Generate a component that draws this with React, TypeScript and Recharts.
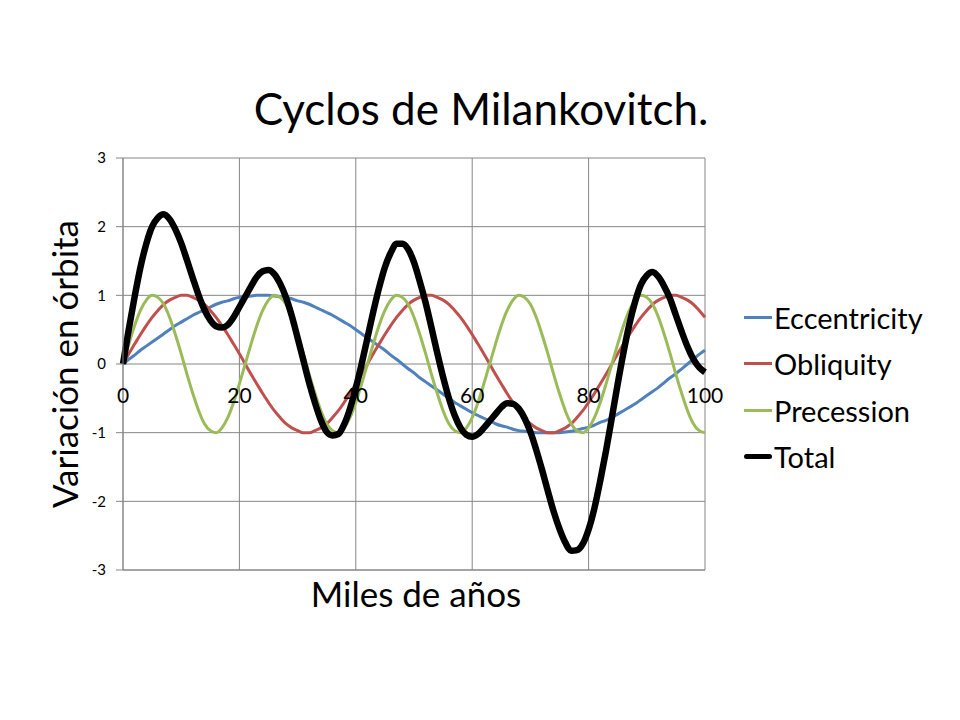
import { LineChart, Line, XAxis, YAxis, CartesianGrid, Legend } from 'recharts'

const FONT = 'Lato, "Open Sans", sans-serif'

// thousand-year steps along the x axis
const years = Array.from({ length: 101 }, (_, i) => i)

const eccentricity = [
  0, 0.07, 0.13, 0.2, 0.26, 0.32, 0.38, 0.44, 0.5, 0.56, 0.61, 0.66, 0.71, 0.75, 0.79, 0.83, 0.87, 0.9, 0.92, 0.95,
  0.97, 0.98, 0.99, 1.0, 1.0, 1.0, 0.99, 0.98, 0.97, 0.95, 0.92, 0.9, 0.87, 0.83, 0.79, 0.75, 0.71, 0.66, 0.61, 0.56,
  0.5, 0.44, 0.38, 0.32, 0.26, 0.2, 0.13, 0.07, 0, -0.07, -0.13, -0.2, -0.26, -0.32, -0.38, -0.44, -0.5, -0.56, -0.61,
  -0.66, -0.71, -0.75, -0.79, -0.83, -0.87, -0.9, -0.92, -0.95, -0.97, -0.98, -0.99, -1.0, -1.0, -1.0, -1.0, -1.0,
  -0.99, -0.98, -0.96, -0.94, -0.92, -0.89, -0.85, -0.82, -0.78, -0.73, -0.68, -0.63, -0.58, -0.52, -0.46, -0.4, -0.34,
  -0.27, -0.2, -0.14, -0.07, 0, 0.07, 0.14, 0.2,
]

const obliquity = [
  0, 0.15, 0.29, 0.43, 0.56, 0.68, 0.78, 0.87, 0.93, 0.97, 1.0, 1.0, 0.97, 0.93, 0.87, 0.78, 0.68, 0.56, 0.43, 0.29,
  0.15, 0, -0.15, -0.29, -0.43, -0.56, -0.68, -0.78, -0.87, -0.93, -0.97, -1.0, -1.0, -0.97, -0.93, -0.87, -0.78, -0.68,
  -0.56, -0.43, -0.29, -0.15, 0, 0.15, 0.29, 0.43, 0.56, 0.68, 0.78, 0.87, 0.93, 0.97, 1.0, 1.0, 0.97, 0.93, 0.87, 0.78,
  0.68, 0.56, 0.43, 0.29, 0.15, 0, -0.15, -0.29, -0.43, -0.56, -0.68, -0.78, -0.87, -0.93, -0.97, -1.0, -1.0, -0.97,
  -0.93, -0.87, -0.78, -0.68, -0.56, -0.43, -0.29, -0.15, 0, 0.15, 0.29, 0.43, 0.56, 0.68, 0.78, 0.87, 0.93, 0.97, 1.0,
  1.0, 0.97, 0.93, 0.87, 0.78, 0.68,
]

const precession = [
  0, 0.29, 0.56, 0.78, 0.93, 1.0, 0.97, 0.87, 0.68, 0.43, 0.15, -0.15, -0.43, -0.68, -0.87, -0.97, -1.0, -0.93, -0.78,
  -0.56, -0.29, 0, 0.29, 0.56, 0.78, 0.93, 1.0, 0.97, 0.87, 0.68, 0.43, 0.15, -0.15, -0.43, -0.68, -0.87, -0.97, -1.0,
  -0.93, -0.78, -0.56, -0.29, 0, 0.29, 0.56, 0.78, 0.93, 1.0, 0.97, 0.87, 0.68, 0.43, 0.15, -0.15, -0.43, -0.68, -0.87,
  -0.97, -1.0, -0.93, -0.78, -0.56, -0.29, 0, 0.29, 0.56, 0.78, 0.93, 1.0, 0.97, 0.87, 0.68, 0.43, 0.15, -0.15, -0.43,
  -0.68, -0.87, -0.97, -1.0, -0.93, -0.78, -0.56, -0.29, 0, 0.29, 0.56, 0.78, 0.93, 1.0, 0.97, 0.87, 0.68, 0.43, 0.15,
  -0.15, -0.43, -0.68, -0.87, -0.97, -1.0,
]

const total = [
  0, 0.51, 0.98, 1.41, 1.75, 2.0, 2.13, 2.18, 2.11, 1.96, 1.76, 1.51, 1.25, 1.0, 0.79, 0.64, 0.55, 0.53, 0.57, 0.68,
  0.83, 0.98, 1.13, 1.27, 1.35, 1.37, 1.31, 1.17, 0.97, 0.7, 0.38, 0.05, -0.28, -0.57, -0.82, -0.99, -1.04, -1.02,
  -0.88, -0.65, -0.35, 0, 0.38, 0.76, 1.11, 1.41, 1.62, 1.75, 1.75, 1.67, 1.48, 1.2, 0.89, 0.53, 0.16, -0.19, -0.5,
  -0.75, -0.93, -1.03, -1.06, -1.02, -0.93, -0.83, -0.73, -0.63, -0.57, -0.58, -0.65, -0.79, -0.99, -1.25, -1.54,
  -1.85, -2.15, -2.4, -2.6, -2.72, -2.71, -2.62, -2.41, -2.1, -1.7, -1.26, -0.78, -0.29, 0.17, 0.58, 0.91, 1.16,
  1.29, 1.34, 1.27, 1.13, 0.95, 0.71, 0.47, 0.25, 0.07, -0.05, -0.12,
]

const xTicks = [0, 20, 40, 60, 80, 100]
const yTicks = [-3, -2, -1, 0, 1, 2, 3]

const seriesNames = ['Eccentricity', 'Obliquity', 'Precession', 'Total']
const seriesKeys = ['ecc', 'obl', 'pre', 'total']
const seriesColors = ['#4F81BD', '#C0504D', '#9BBB59', '#000000']
const seriesWidths = [3, 3, 3, 6.5]

const data = years.map((x, i) => ({
  x,
  ecc: eccentricity[i],
  obl: obliquity[i],
  pre: precession[i],
  total: total[i],
}))

const GRID = '#868686'
const ZERO_Y = 364

function XTick(props: any) {
  const { x, payload } = props
  return (
    <text x={x} y={ZERO_Y + 39} textAnchor="middle" fontFamily={FONT} fontSize={21} fill="#000">
      {payload.value}
    </text>
  )
}

function LegendBox() {
  return (
    <div style={{ fontFamily: FONT, fontSize: 29, color: '#000' }}>
      {seriesNames.map((name, i) => (
        <div key={name} style={{ display: 'flex', alignItems: 'center', height: 46.5, whiteSpace: 'nowrap' }}>
          <span
            style={{
              display: 'inline-block',
              width: 28,
              height: i === 3 ? 5 : 3,
              borderRadius: i === 3 ? 3 : 0,
              background: seriesColors[i],
              marginRight: 2,
            }}
          />
          <span>{name}</span>
        </div>
      ))}
    </div>
  )
}

export default function App() {
  return (
    <div style={{ position: 'absolute', left: 0, top: 0, width: 960, height: 720, background: '#fff' }}>
      <LineChart width={960} height={720} data={data} margin={{ top: 158, right: 255, bottom: 149, left: 122 }}>
        <CartesianGrid stroke={GRID} strokeWidth={1} />
        <XAxis
          dataKey="x"
          type="number"
          domain={[0, 100]}
          ticks={xTicks}
          interval={0}
          height={1}
          tickLine={false}
          axisLine={{ stroke: GRID }}
          tick={<XTick />}
        />
        <YAxis
          type="number"
          domain={[-3, 3]}
          ticks={yTicks}
          interval={0}
          width={1}
          tickSize={7}
          tickMargin={10}
          tickLine={{ stroke: GRID }}
          axisLine={{ stroke: GRID }}
          tick={{ fontSize: 15, fill: '#000', fontFamily: FONT }}
        />
        {seriesKeys.map((k, i) => (
          <Line
            key={k}
            dataKey={k}
            name={seriesNames[i]}
            type="monotone"
            stroke={seriesColors[i]}
            strokeWidth={seriesWidths[i]}
            dot={false}
            activeDot={false}
            isAnimationActive={false}
          />
        ))}
        <Legend
          layout="vertical"
          align="center"
          verticalAlign="middle"
          content={() => <LegendBox />}
          wrapperStyle={{ left: 744, top: 294, width: 210 }}
        />
      </LineChart>
      <svg
        width={960}
        height={720}
        style={{ position: 'absolute', left: 0, top: 0, pointerEvents: 'none' }}
        fontFamily={FONT}
      >
        <text x={481} y={125} textAnchor="middle" fontSize={44} fill="#000">
          Cyclos de Milankovitch.
        </text>
        <text x={416} y={607} textAnchor="middle" fontSize={35} fill="#000">
          Miles de años
        </text>
        <text transform="translate(78,364) rotate(-90)" textAnchor="middle" fontSize={35} fill="#000">
          Variación en órbita
        </text>
      </svg>
    </div>
  )
}
